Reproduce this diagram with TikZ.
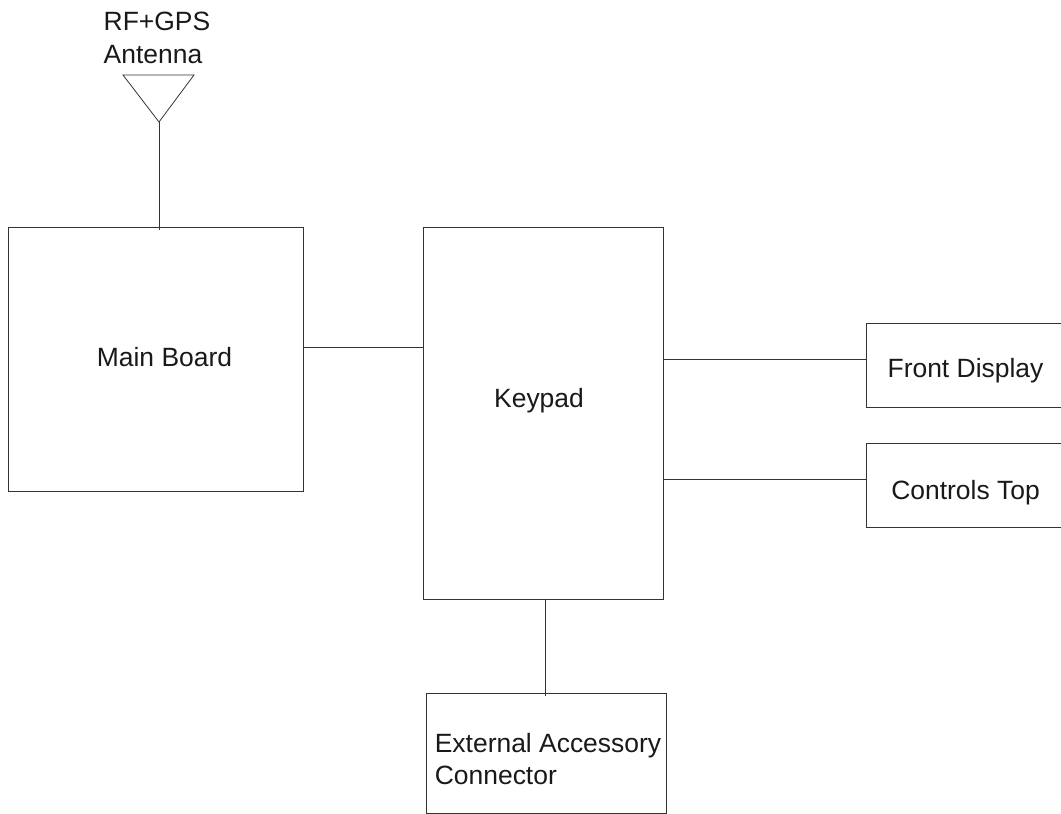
\documentclass[tikz,border=0pt]{standalone}
\usepackage{fontspec}
\setmainfont{Liberation Sans}
\usetikzlibrary{positioning,calc}
\definecolor{inkgray}{gray}{0.2}

\begin{document}
\begin{tikzpicture}[
    x=0.02cm, y=-0.02cm,
    line width=0.45pt,
    wire/.style={draw=inkgray},
    block/.style={rectangle, draw=inkgray, inner sep=0pt, outer sep=0pt},
    caption/.style={inner sep=0pt, text=black!90, font=\fontsize{15.05pt}{18.7pt}\selectfont, align=left}
]
\useasboundingbox (0, 0) rectangle (1061, 814);

% Blocks
\node[block, minimum width=5.9cm, minimum height=5.28cm] (main) at (155.5, 359) {};
\node[block, minimum width=4.8cm, minimum height=7.44cm] (keypad) at (543, 413) {};
\node[block, minimum width=3.94cm, minimum height=1.68cm] (front) at (964.5, 365) {};
\node[block, minimum width=3.94cm, minimum height=1.68cm] (controls) at (964.5, 485) {};
\node[block, minimum width=4.8cm, minimum height=2.4cm] (accessory) at (546.3, 753) {};

% Labels
\node[caption] (antlabel) at (157, 38) {RF+GPS\\Antenna};
\node[caption] (mainlabel) at (164.5, 357) {Main Board};
\node[caption] (keypadlabel) at (539, 401) {Keypad};
\node[caption] (frontlabel) at (965.5, 371) {Front Display};
\node[caption] (controlslabel) at (965.5, 493) {Controls Top};
\node[caption] (accessorylabel) at (548, 759) {External Accessory\\Connector};

% Antenna
\coordinate (anttip) at (159, 122);
\draw[wire] (123, 75) -- (194, 75) -- (anttip) -- cycle;
\draw[wire, shorten >=-0.06cm] (anttip) -- (anttip |- main.north);

% Connections
\coordinate (mainout) at (423, 347);
\coordinate (frontin) at (866, 359);
\coordinate (controlsin) at (866, 479);
\coordinate (accessoryin) at (545, 693);
\draw[wire] (main.east |- mainout) -- (mainout);
\draw[wire] (keypad.east |- frontin) -- (frontin);
\draw[wire] (keypad.east |- controlsin) -- (controlsin);
\draw[wire, shorten >=-0.06cm] (accessoryin |- keypad.south) -- (accessoryin);

\end{tikzpicture}
\end{document}
